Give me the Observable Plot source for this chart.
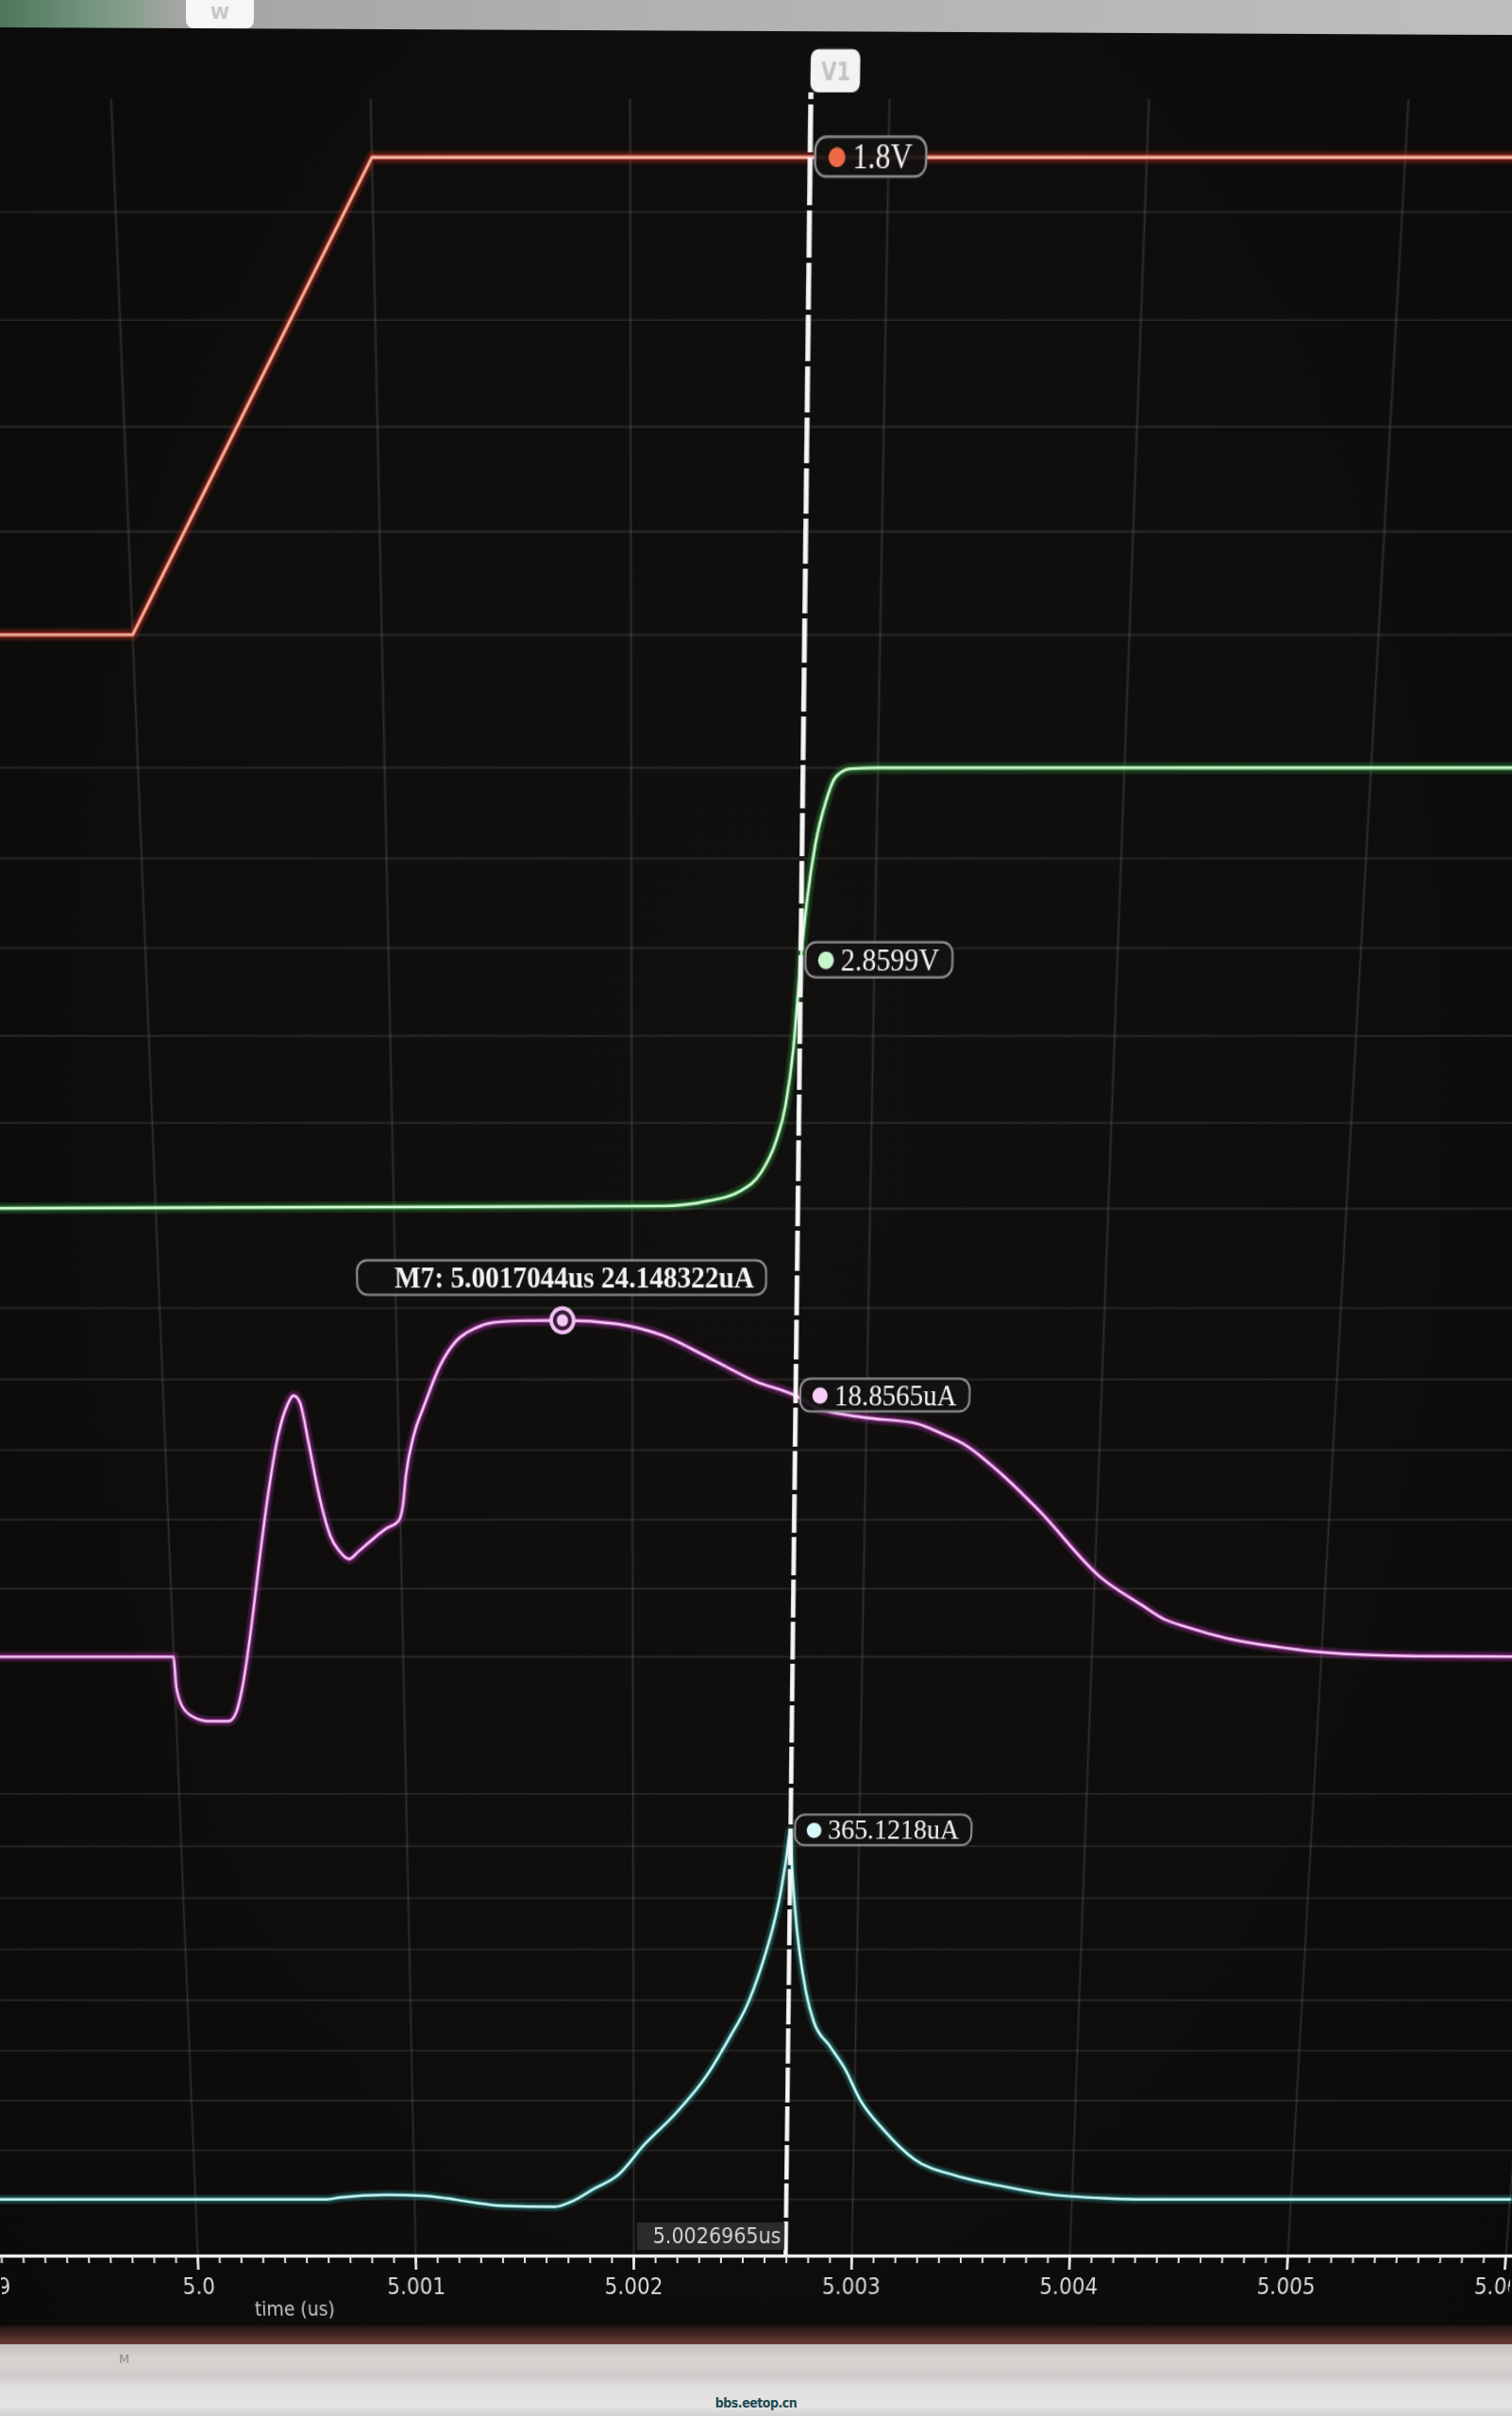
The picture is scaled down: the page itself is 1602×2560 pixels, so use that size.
<!DOCTYPE html>
<html lang="en">
<head>
<meta charset="utf-8">
<title>Transient waveforms – cursor V1</title>
<script src="https://cdn.jsdelivr.net/npm/d3@7"></script>
<script src="https://cdn.jsdelivr.net/npm/@observablehq/plot@0.6"></script>
<style>
  html, body { margin: 0; padding: 0; }
  body { width: 1602px; height: 2560px; position: relative; overflow: hidden;
         background: radial-gradient(ellipse at 50% 45%, #12100e 0%, #0e0d0b 65%, #0b0a09 100%); }
  #scope { position: absolute; left: 0; top: 0; width: 1602px; height: 2480px; transform-origin: 692px 2390px; }
  #scope svg { position: absolute; left: 0; top: 0; background: none; }
  #topbar { position: absolute; left: 0; top: 0; width: 1602px; height: 40px; z-index: 5;
            background: linear-gradient(to right, #4d765a 0px, #7e9c87 120px, #a4a6a3 190px, #b1b1af 700px, #bebebc 1602px);
            clip-path: polygon(0 0, 100% 0, 100% 37px, 0 29px); }
  #wtab { position: absolute; left: 197px; top: 0; width: 72px; height: 30px; z-index: 6; background: #f6f6f6;
          border-radius: 0 0 8px 8px; color: #c6c6c6; font: 700 18px 'DejaVu Sans', sans-serif; text-align: center; line-height: 28px; }
  #lowband { position: absolute; left: 0; top: 2464px; width: 1602px; height: 20px; z-index: 5;
             background: linear-gradient(#1c1412, #56302b 70%, #6a3a34); }
  #status { position: absolute; left: 0; top: 2484px; width: 1602px; height: 76px; z-index: 5;
            background: linear-gradient(#c4c0be 0, #d6d3d1 20%, #cfcccb 45%, #e2e0de 60%, #e6e4e2 85%, #d4d2d0 100%); }
  #mlabel { position: absolute; left: 126px; top: 8px; font: 13px 'DejaVu Sans', sans-serif; color: #8a8886; }
  #wm { position: absolute; left: 0; width: 1602px; top: 54px; text-align: center;
        font: bold 14px 'DejaVu Sans Condensed', 'DejaVu Sans', sans-serif; color: #1b4a52; letter-spacing: -0.5px; }
</style>
</head>
<body>
<div id="scope"></div>
<div id="topbar"></div>
<div id="wtab">W</div>
<div id="lowband"></div>
<div id="status"><span id="mlabel">M</span><span id="wm">bbs.eetop.cn</span></div>
<script>
// ================= values =================
// time in us, value in V or uA
const redTrace = [[4.999, 0], [5.000, 0], [5.001, 1.8], [5.006, 1.8]];
const greenTrace = [
  [4.999, 0], [5.00213, 0.03], [5.00232, 0.09], [5.00245, 0.20], [5.00254, 0.42], [5.0026, 0.77],
  [5.00264, 1.20], [5.00267, 1.85], [5.0026965, 2.8599], [5.00272, 3.55], [5.00275, 4.15],
  [5.00279, 4.62], [5.00283, 4.90], [5.00289, 4.99], [5.0030, 5.0], [5.006, 5.0]
];
const purpleTrace = [
  [4.999, 0], [5.0, 0], [5.000006, -2.24], [5.000029, -3.68], [5.000074, -4.45], [5.000141, -4.78],
  [5.000229, -4.78], [5.000264, -4.12], [5.000295, -2.24], [5.000337, 1.62], [5.000388, 7.15],
  [5.000437, 12.12], [5.000484, 15.99], [5.000528, 18.2], [5.000556, 18.86], [5.000581, 18.42],
  [5.000615, 15.43], [5.000655, 11.57], [5.000697, 8.81], [5.000735, 7.7], [5.000775, 7.15],
  [5.000816, 7.7], [5.000871, 8.48], [5.000938, 9.36], [5.000992, 9.91], [5.001012, 11.0],
  [5.001028, 13.2], [5.001064, 16.0], [5.001113, 18.2], [5.001182, 20.96], [5.001248, 22.62],
  [5.001335, 23.6], [5.001414, 24.0], [5.001544, 24.12], [5.0017044, 24.148322], [5.001936, 23.9],
  [5.002132, 23.07], [5.002329, 21.5], [5.002526, 19.86], [5.0026965, 18.8565], [5.002789, 17.98],
  [5.002988, 17.32], [5.003218, 16.87], [5.003318, 16.21], [5.003418, 15.43], [5.003587, 13.23],
  [5.003748, 10.69], [5.004031, 5.75], [5.004205, 3.84], [5.004308, 2.77], [5.00441, 2.18],
  [5.004587, 1.35], [5.004885, 0.55], [5.005001, 0.34], [5.005413, 0.05], [5.006, 0]
];
const cyanTrace = [
  [4.999, 0], [5.0006, 0], [5.00066, 2], [5.00087, 4.7], [5.00104, 3.7], [5.00115, 1], [5.00126, -2.8],
  [5.0014, -6.5], [5.00164, -7.5], [5.00171, -2.8], [5.00182, 11], [5.00193, 25], [5.00205, 56],
  [5.00219, 87], [5.00233, 125], [5.00243, 162], [5.00252, 200], [5.00258, 238], [5.00262, 269],
  [5.002653, 302], [5.002678, 337], [5.0026965, 365.1218], [5.002705, 330], [5.00272, 290],
  [5.002774, 208], [5.002812, 178], [5.002883, 155], [5.002954, 132], [5.003025, 101], [5.003133, 71],
  [5.003276, 41], [5.00347, 24], [5.00367, 14], [5.00385, 6.5], [5.00416, 1], [5.00433, 0], [5.006, 0]
];
const redGrid = [0, 0.4, 0.8, 1.2, 1.6];
const greenGrid = [0, 1, 2, 3, 4, 5];
const purpleGrid = [0, 5, 10, 15, 20, 25];
const cyanGrid = [0, 50, 100, 150, 200, 250, 300, 350, 400];
const majorTicks = [4.999, 5.0, 5.001, 5.002, 5.003, 5.004, 5.005, 5.006];
const axisTitle = "time (us)";
const cursorName = "V1";
const cursorTime = 5.0026965;
const cursorReadings = [1.8, 2.8599, 18.8565, 365.1218];
const cursorUnits = ["V", "V", "uA", "uA"];
const markerName = "M7";
const markerTime = 5.0017044;
const markerValue = 24.148322;

// ================= layout (flat screen, then photographed at an angle) =================
const W = 1602, H = 2480, AXIS_Y = 2390, K = 8.32e-5;
const xDomain = [4.999, 5.006], xRange = [-22, 1595];
const pxPerUs = (xRange[1] - xRange[0]) / (xDomain[1] - xDomain[0]);
const flatY = py => { const v = AXIS_Y - py; return AXIS_Y - v / (1 + K * v); };
const scope = document.getElementById("scope");
scope.style.transform = `matrix3d(1,0,0,0, 0,1,0,${K}, 0,0,1,0, 0,0,0,1)`;

const xOpt = {domain: xDomain, range: xRange, axis: null};
const LABEL_FONT = "'Liberation Serif','Times New Roman',serif";
const SANS = "'DejaVu Sans Condensed','Liberation Sans Narrow','DejaVu Sans',sans-serif";
const ctx = document.createElement("canvas").getContext("2d");
const textW = (s, px, weight = "normal") => { ctx.font = `${weight} ${px}px ${LABEL_FONT}`; return ctx.measureText(s).width; };
const add = p => scope.appendChild(p);

const yTop = flatY(105);
const pxU = AXIS_Y - yTop;
const frameY = {domain: [0, 1], range: [AXIS_Y, yTop], axis: null};
const cursorTop = (AXIS_Y - flatY(98)) / pxU;
const tagTop = (AXIS_Y - flatY(52)) / pxU;
const fmt = d => Math.abs(d - 5) < 1e-9 ? "5.0" : d.toFixed(3);
const minorTicks = d3.range(-10, 71).map(i => +(5 + i / 10000).toFixed(4));

// vertical grid
add(Plot.plot({
  width: W, height: H, margin: 0, x: xOpt, y: frameY,
  marks: [Plot.ruleX(majorTicks, {y1: () => 0, y2: () => 1, stroke: "#a8a8a8", strokeOpacity: 0.2, strokeWidth: 1.8})]
}));

const strips = [
  {trace: redTrace, grid: redGrid, domain: [0, 1.8], photo: [672, 166], core: "#f7b2a2", glow: "#c4301c", dot: "#ee6a46", curve: "linear"},
  {trace: greenTrace, grid: greenGrid, domain: [0, 5], photo: [1280, 813], core: "#d4fbd6", glow: "#2c9c40", dot: "#c6f6cc", curve: "monotone-x"},
  {trace: purpleTrace, grid: purpleGrid, domain: [0, 25], photo: [1755, 1385.5], core: "#f6c8f6", glow: "#b030b0", dot: "#f6cef6", curve: "monotone-x"},
  {trace: cyanTrace, grid: cyanGrid, domain: [0, 365.1218], photo: [2330, 1939], core: "#d2fafa", glow: "#2a9a9a", dot: "#d6fafa", curve: "monotone-x"}
];

strips.forEach((s, i) => {
  const r0 = flatY(s.photo[0]), r1 = flatY(s.photo[1]);
  const pxY = (r0 - r1) / (s.domain[1] - s.domain[0]);
  const rows = s.trace.map(([t, v]) => ({t, v}));
  const reading = cursorReadings[i];
  const label = `${reading}${cursorUnits[i]}`;
  const bw = textW(label, 27) + 46, bh = 30, gap = 5;
  const at = [{t: cursorTime, v: reading}];
  const marks = [
    Plot.ruleY(s.grid, {stroke: "#a8a8a8", strokeOpacity: 0.17, strokeWidth: 1.6}),
    Plot.line(rows, {x: "t", y: "v", curve: s.curve, stroke: s.glow, strokeWidth: 10, strokeOpacity: 0.24}),
    Plot.line(rows, {x: "t", y: "v", curve: s.curve, stroke: s.glow, strokeWidth: 5, strokeOpacity: 0.5}),
    Plot.line(rows, {x: "t", y: "v", curve: s.curve, stroke: s.core, strokeWidth: 2.4}),
    Plot.rect(at, {x1: d => d.t + gap / pxPerUs, x2: d => d.t + (gap + bw) / pxPerUs,
                   y1: d => d.v - bh / 2 / pxY, y2: d => d.v + bh / 2 / pxY,
                   rx: 10, fill: "#121010", fillOpacity: 0.92, stroke: "#8e8e8e", strokeWidth: 2}),
    Plot.dot(at, {x: "t", y: "v", dx: gap + 19, r: 7.5, fill: s.dot, stroke: "none"}),
    Plot.text(at, {x: "t", y: "v", dx: gap + 33, text: () => label, textAnchor: "start",
                   fontSize: 27, fontFamily: LABEL_FONT, fill: "#f6f6f6"})
  ];
  if (i === 2) {
    const mk = [{t: markerTime, v: markerValue}];
    const mText = `${markerName}: ${markerTime}us ${markerValue}uA`;
    const mw = textW(mText, 27, "bold") + 48, mh = 31, up = 38;
    marks.push(
      Plot.rect(mk, {x1: d => d.t - mw / 2 / pxPerUs, x2: d => d.t + mw / 2 / pxPerUs,
                     y1: d => d.v + (up - mh / 2) / pxY, y2: d => d.v + (up + mh / 2) / pxY,
                     rx: 10, fill: "#121010", fillOpacity: 0.9, stroke: "#8e8e8e", strokeWidth: 2}),
      Plot.text(mk, {x: "t", y: d => d.v + up / pxY, dx: -mw / 2 + 36, text: () => mText, textAnchor: "start",
                     fontSize: 27, fontWeight: "bold", fontFamily: LABEL_FONT, fill: "#f4f4f4"}),
      Plot.dot(mk, {x: "t", y: "v", r: 11, stroke: "#f2c4f4", strokeWidth: 3.5, fill: "#3a1a3a"}),
      Plot.dot(mk, {x: "t", y: "v", r: 5.5, fill: "#f4c8f4", stroke: "none"})
    );
  }
  add(Plot.plot({width: W, height: H, margin: 0, x: xOpt, y: {domain: s.domain, range: [r0, r1], axis: null}, marks}));
});

// axis, cursor and its tags
const ct = [cursorTime];
const timeLabel = `${cursorTime}us`;
add(Plot.plot({
  width: W, height: H, margin: 0, x: xOpt, y: frameY,
  marks: [
    Plot.ruleY([0], {stroke: "#eeeeee", strokeWidth: 3.5}),
    Plot.ruleX(minorTicks, {y1: () => 0, y2: () => -8 / pxU, stroke: "#e4e4e4", strokeWidth: 2}),
    Plot.ruleX(majorTicks, {y1: () => 0, y2: () => -15 / pxU, stroke: "#f0f0f0", strokeWidth: 2.6}),
    Plot.text(majorTicks, {x: d => d, y: () => 0, dy: 33, text: fmt, fontSize: 24, fontFamily: SANS, fill: "#d6d6d6"}),
    Plot.text([axisTitle], {frameAnchor: "bottom-left", dx: 310, dy: -(H - AXIS_Y) + 63, text: d => d,
                            textAnchor: "middle", fontSize: 21, fontFamily: SANS, fill: "#c4c4c4"}),
    Plot.ruleX(ct, {y1: () => 0, y2: () => cursorTop, stroke: "#f7f7f7", strokeWidth: 4.5, strokeDasharray: "36,4"}),
    Plot.rect(ct, {x1: d => d, x2: d => d + 44 / pxPerUs, y1: () => cursorTop, y2: () => tagTop, rx: 7, fill: "#f3f3f3"}),
    Plot.text(ct, {x: d => d + 22 / pxPerUs, y: () => (cursorTop + tagTop) / 2, text: () => cursorName,
                   fontSize: 20, fontWeight: "bold", fontFamily: SANS, fill: "#c4c4c4"}),
    Plot.rect(ct, {x1: d => d - 157 / pxPerUs, x2: d => d - 1 / pxPerUs, y1: () => 6 / pxU, y2: () => 35 / pxU,
                   fill: "#2e2c2b", fillOpacity: 0.95}),
    Plot.text(ct, {x: d => d, y: () => 20.5 / pxU, dx: -5, text: () => timeLabel, textAnchor: "end",
                   fontSize: 23, fontFamily: SANS, fill: "#d2d2d2"})
  ]
}));
</script>
</body>
</html>
